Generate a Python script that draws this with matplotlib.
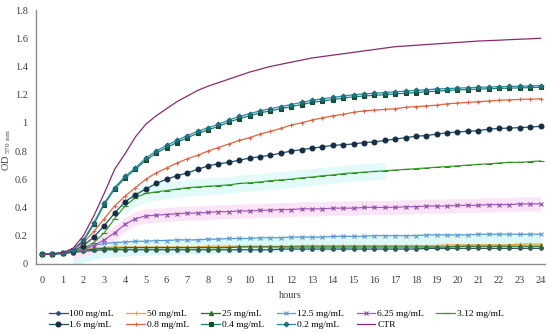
import numpy as np
import matplotlib
matplotlib.use("Agg")
import matplotlib.pyplot as plt

plt.rcParams['font.family'] = ['Liberation Serif', 'DejaVu Serif']

hours = np.arange(0, 24.5, 0.5)  # sampling every half hour

od_100 = [0.07, 0.07, 0.075, 0.08, 0.09, 0.095, 0.10, 0.10, 0.10, 0.10, 0.10, 0.10, 0.10, 0.10, 0.10, 0.10,
          0.10, 0.10, 0.10, 0.10, 0.10, 0.10, 0.10, 0.105, 0.105, 0.105, 0.105, 0.105, 0.105, 0.105, 0.105, 0.105,
          0.105, 0.105, 0.105, 0.105, 0.105, 0.11, 0.11, 0.11, 0.11, 0.11, 0.11, 0.11, 0.11, 0.11, 0.11, 0.11, 0.11]
od_50 = [0.07, 0.07, 0.075, 0.085, 0.10, 0.11, 0.115, 0.12, 0.12, 0.12, 0.12, 0.12, 0.12, 0.12, 0.12, 0.12,
         0.125, 0.125, 0.125, 0.125, 0.125, 0.125, 0.125, 0.125, 0.125, 0.13, 0.13, 0.13, 0.13, 0.13, 0.13, 0.13,
         0.13, 0.13, 0.13, 0.13, 0.13, 0.13, 0.13, 0.135, 0.135, 0.135, 0.135, 0.135, 0.135, 0.135, 0.14, 0.14, 0.14]
od_25 = [0.07, 0.07, 0.075, 0.085, 0.095, 0.105, 0.11, 0.11, 0.115, 0.115, 0.115, 0.115, 0.115, 0.115, 0.115, 0.115,
         0.115, 0.115, 0.115, 0.12, 0.12, 0.12, 0.12, 0.12, 0.12, 0.12, 0.12, 0.12, 0.12, 0.12, 0.12, 0.12,
         0.12, 0.12, 0.12, 0.12, 0.12, 0.12, 0.12, 0.12, 0.125, 0.125, 0.125, 0.125, 0.125, 0.125, 0.125, 0.125, 0.125]
od_12_5 = [0.07, 0.07, 0.075, 0.09, 0.11, 0.13, 0.145, 0.15, 0.155, 0.16, 0.16, 0.165, 0.165, 0.17, 0.17, 0.17,
           0.175, 0.175, 0.18, 0.18, 0.18, 0.185, 0.185, 0.185, 0.19, 0.19, 0.19, 0.19, 0.195, 0.195, 0.195, 0.195,
           0.20, 0.20, 0.20, 0.20, 0.20, 0.205, 0.205, 0.205, 0.205, 0.205, 0.21, 0.21, 0.21, 0.21, 0.21, 0.21, 0.21]
od_6_25 = [0.07, 0.07, 0.075, 0.085, 0.10, 0.13, 0.17, 0.22, 0.28, 0.32, 0.34, 0.345, 0.35, 0.355, 0.36, 0.36,
           0.365, 0.37, 0.37, 0.375, 0.375, 0.38, 0.38, 0.385, 0.385, 0.39, 0.39, 0.39, 0.395, 0.395, 0.395, 0.40,
           0.40, 0.40, 0.40, 0.405, 0.405, 0.41, 0.41, 0.41, 0.415, 0.415, 0.415, 0.42, 0.42, 0.42, 0.425, 0.425, 0.425]
od_3_12 = [0.07, 0.07, 0.075, 0.085, 0.11, 0.15, 0.22, 0.32, 0.41, 0.47, 0.50, 0.51, 0.52, 0.53, 0.54, 0.545,
           0.55, 0.555, 0.56, 0.57, 0.575, 0.58, 0.59, 0.595, 0.60, 0.61, 0.615, 0.625, 0.63, 0.64, 0.645, 0.65,
           0.655, 0.66, 0.665, 0.67, 0.675, 0.68, 0.685, 0.69, 0.695, 0.70, 0.705, 0.71, 0.715, 0.72, 0.72, 0.725, 0.73]
od_1_6 = [0.07, 0.07, 0.075, 0.09, 0.13, 0.19, 0.27, 0.36, 0.44, 0.49, 0.53, 0.57, 0.60, 0.625, 0.645, 0.67,
          0.695, 0.71, 0.72, 0.735, 0.75, 0.76, 0.77, 0.785, 0.80, 0.81, 0.82, 0.83, 0.84, 0.845, 0.85, 0.86,
          0.865, 0.875, 0.885, 0.895, 0.905, 0.91, 0.92, 0.93, 0.935, 0.94, 0.945, 0.955, 0.96, 0.963, 0.966, 0.97, 0.975]
od_0_8 = [0.07, 0.07, 0.08, 0.10, 0.15, 0.23, 0.32, 0.41, 0.48, 0.54, 0.60, 0.645, 0.68, 0.715, 0.745, 0.77,
          0.80, 0.825, 0.85, 0.875, 0.895, 0.92, 0.94, 0.96, 0.985, 1.00, 1.02, 1.035, 1.05, 1.06, 1.075, 1.085,
          1.09, 1.095, 1.10, 1.11, 1.115, 1.12, 1.125, 1.135, 1.14, 1.145, 1.15, 1.155, 1.16, 1.163, 1.166, 1.168, 1.17]
od_0_4 = [0.07, 0.07, 0.08, 0.10, 0.16, 0.28, 0.42, 0.53, 0.61, 0.67, 0.735, 0.785, 0.825, 0.86, 0.895, 0.925,
          0.95, 0.975, 1.005, 1.03, 1.05, 1.07, 1.085, 1.10, 1.115, 1.13, 1.145, 1.155, 1.165, 1.175, 1.185, 1.19,
          1.195, 1.20, 1.205, 1.21, 1.215, 1.22, 1.225, 1.23, 1.233, 1.236, 1.239, 1.242, 1.244, 1.246, 1.248, 1.25, 1.252]
od_0_2 = [0.07, 0.07, 0.08, 0.10, 0.17, 0.29, 0.43, 0.54, 0.62, 0.68, 0.75, 0.80, 0.84, 0.875, 0.91, 0.94,
          0.965, 0.99, 1.02, 1.045, 1.065, 1.085, 1.10, 1.115, 1.13, 1.145, 1.16, 1.17, 1.18, 1.19, 1.20, 1.205,
          1.21, 1.215, 1.22, 1.225, 1.23, 1.235, 1.24, 1.243, 1.246, 1.249, 1.252, 1.254, 1.256, 1.258, 1.26, 1.262, 1.264]
od_ctr = [0.07, 0.07, 0.08, 0.11, 0.20, 0.34, 0.50, 0.67, 0.78, 0.90, 0.99, 1.05, 1.10, 1.15, 1.19, 1.23,
          1.26, 1.285, 1.31, 1.335, 1.36, 1.38, 1.40, 1.415, 1.43, 1.445, 1.46, 1.47, 1.48, 1.49, 1.50, 1.51,
          1.52, 1.53, 1.54, 1.545, 1.55, 1.555, 1.56, 1.565, 1.57, 1.575, 1.58, 1.583, 1.586, 1.59, 1.593, 1.596, 1.60]

# spread shown as shaded bands around a few series
sd_12_5 = 0.05
sd_6_25 = 0.05
sd_3_12 = 0.06

labels = ["100 mg/mL", "50 mg/mL", "25 mg/mL", "12.5 mg/mL", "6.25 mg/mL", "3.12 mg/mL",
          "1.6 mg/mL", "0.8 mg/mL", "0.4 mg/mL", "0.2 mg/mL", "CTR"]
series = [od_100, od_50, od_25, od_12_5, od_6_25, od_3_12, od_1_6, od_0_8, od_0_4, od_0_2, od_ctr]
colors = ["#2f4b7c", "#e9a23b", "#2e6b2e", "#5b9bd5", "#a55bbb", "#3aa02a",
          "#1f5266", "#dd6540", "#1f7c78", "#2a8c9c", "#8b2a6e"]
mcolors = ["#2f4b7c", "#e9a23b", "#2e6b2e", "#5b9bd5", "#8e4aa6", "#2f8a22",
           "#152c45", "#dd6540", "#174d2c", "#1e6f80", "#8b2a6e"]
markers = ["o", "+", "^", "x", "x", "_", "o", "+", "s", "D", None]
msizes = [2.5, 3.5, 3, 3, 3, 4, 3.5, 3.5, 3, 2.5, 0]

fig = plt.figure(figsize=(5.5, 3.34), dpi=100)
ax = fig.add_axes([0.0655, 0.21, 0.925, 0.76])

y12 = np.array(od_12_5)
ax.fill_between(hours[3:], y12[3:] - sd_12_5 - 0.05, y12[3:] + sd_12_5 * 0.2,
                color="#dcf8f8", lw=0, zorder=0)
ax.fill_between(hours[3:], np.array(od_6_25[3:]) - sd_6_25, np.array(od_6_25[3:]) + sd_6_25,
                color="#fbe4f7", lw=0, zorder=0)
ax.fill_between(hours[8:34], np.array(od_3_12[8:34]) - sd_3_12, np.array(od_3_12[8:34]) + sd_3_12,
                color="#e2fbf8", lw=0, zorder=0)

handles = []
for i, (lab, y) in enumerate(zip(labels, series)):
    h, = ax.plot(hours, y, color=colors[i], lw=0.9, marker=markers[i], ms=msizes[i],
                 mfc=mcolors[i], mec=mcolors[i], mew=0.8, label=lab, zorder=2 + (i == 10))
    handles.append(h)

ax.set_xlim(-0.28, 24.2)
ax.set_ylim(0, 1.8)
ax.set_xticks(range(0, 25))
ax.set_yticks(np.arange(0, 1.81, 0.2))
ax.set_yticklabels(["0", "0.2", "0.4", "0.6", "0.8", "1", "1.2", "1.4", "1.6", "1.8"])
ax.tick_params(axis="x", length=0, labelsize=7.5, colors="#404040", pad=9)
ax.tick_params(axis="y", length=0, labelsize=7.5, colors="#404040", pad=6)
for s in ["top", "right"]:
    ax.spines[s].set_visible(False)
for s in ["left", "bottom"]:
    ax.spines[s].set_color("#8c8c8c")
    ax.spines[s].set_linewidth(1.0)

ax.set_xlabel("hours", fontsize=7.5, color="#404040", labelpad=4)
ax.set_ylabel(r"OD $_{\mathregular{570\ nm}}$", fontsize=7.5, color="#404040")
ax.yaxis.set_label_coords(-0.045, 0.45)

order = [0, 6, 1, 7, 2, 8, 3, 9, 4, 10, 5]
ax.legend([handles[k] for k in order], [labels[k] for k in order], ncol=6, frameon=False,
          fontsize=6.8, loc="upper center", bbox_to_anchor=(0.4725, -0.165), handlelength=2.0,
          handletextpad=0.2, columnspacing=1.3, labelspacing=0.25, borderaxespad=0)

fig.savefig("out.png", dpi=100)
